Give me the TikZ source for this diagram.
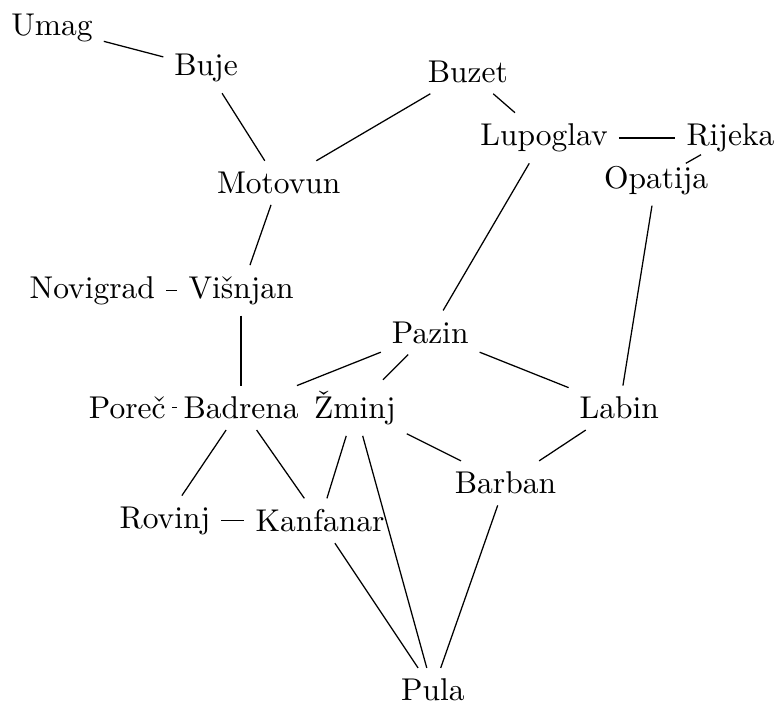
\documentclass[tikz,border=0pt]{standalone}
\usepackage{fontspec}
\usepackage{amsmath}
\usepackage{tikz}

\begin{document}
\begin{tikzpicture}
				\useasboundingbox (0,0) rectangle (8.68,8.08);
				\node (umag) at (0.58,7.77) {Umag};
				\node (buje) at (2.30,7.32) {Buje};
				\node (buzet) at (5.22,7.28) {Buzet};
				\node (lupoglav) at (6.07,6.54) {Lupoglav};
				\node (rijeka) at (8.15,6.54) {Rijeka};
				\node (opatija) at (7.32,6.07) {Opatija};
				\node (motovun) at (3.11,6.04) {Motovun};
				\node (novigrad) at (1.03,4.84) {Novigrad};
				\node (visnjan) at (2.69,4.84) {Višnjan};
				\node (pazin) at (4.80,4.37) {Pazin};
				\node (porec) at (1.42,3.53) {Poreč};
				\node (badrena) at (2.69,3.53) {Badrena};
				\node (zminj) at (3.96,3.53) {Žminj};
				\node (labin) at (6.91,3.53) {Labin};
				\node (barban) at (5.64,2.69) {Barban};
				\node (rovinj) at (1.84,2.27) {Rovinj};
				\node (kanfanar) at (3.57,2.27) {Kanfanar};
				\node (pula) at (4.83,0.38) {Pula};
				\draw (umag) -- (buje);
				\draw (buje) -- (motovun);
				\draw (buzet) -- (motovun);
				\draw (buzet) -- (lupoglav);
				\draw (lupoglav) -- (rijeka);
				\draw (rijeka) -- (opatija);
				\draw (lupoglav) -- (pazin);
				\draw (opatija) -- (labin);
				\draw (motovun) -- (visnjan);
				\draw (novigrad) -- (visnjan);
				\draw (visnjan) -- (badrena);
				\draw (porec) -- (badrena);
				\draw (pazin) -- (badrena);
				\draw (pazin) -- (zminj);
				\draw (pazin) -- (labin);
				\draw (labin) -- (barban);
				\draw (zminj) -- (barban);
				\draw (badrena) -- (rovinj);
				\draw (badrena) -- (kanfanar);
				\draw (rovinj) -- (kanfanar);
				\draw (zminj) -- (kanfanar);
				\draw (zminj) -- (pula);
				\draw (kanfanar) -- (pula);
				\draw (barban) -- (pula);
			\end{tikzpicture}
\end{document}
